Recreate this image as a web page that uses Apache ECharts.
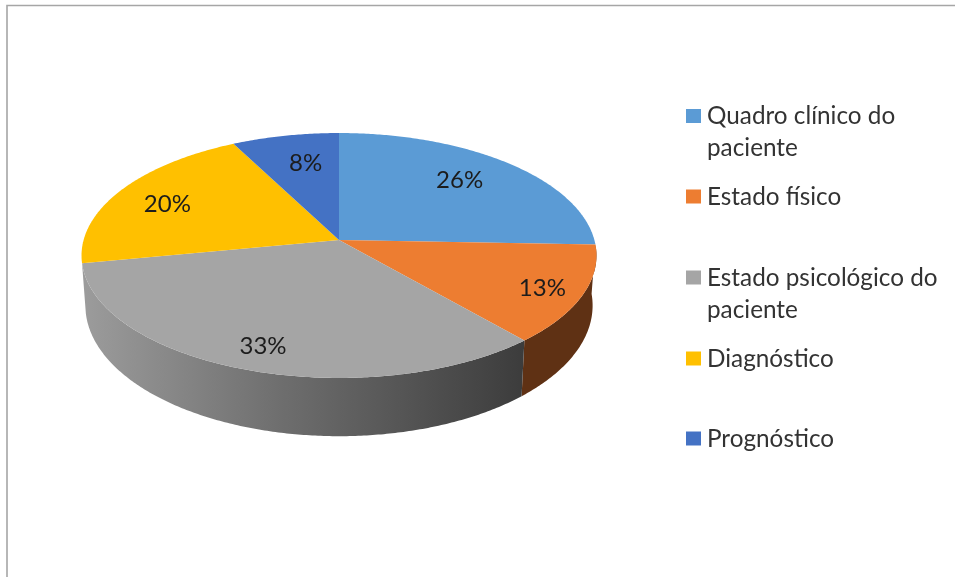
<!DOCTYPE html>
<html>
<head>
<meta charset="utf-8">
<style>html,body{margin:0;padding:0;background:#fff}#c{width:955px;height:577px}</style>
<script src="https://cdn.jsdelivr.net/npm/echarts@6/dist/echarts.min.js"></script>
</head>
<body>
<div id="c"></div>
<script>
const categories = ['Quadro clínico do\npaciente', 'Estado físico', 'Estado psicológico do\npaciente', 'Diagnóstico', 'Prognóstico'];
const values = [25.6, 13.0, 33.4, 20.4, 7.6];
const colors = ['#5b9bd5', '#ed7d31', '#a5a5a5', '#ffc000', '#4472c4'];

// layout of the tilted disc
const CX = 339, CY = 240, A = 255.4, B = 120.5, K = 0.1265;
const BOTTOM_DY = 49, BOTTOM_SX = 0.985, BOTTOM_SY = 1.067;
const labelRadius = [0.72, 0.85, 0.83, 0.77, 0.71];
const labelNudge = [[-4, -3], [-2, 2], [1, 1], [-2, 3], [6, 0]];
const legendCenters = [116, 196.5, 277.5, 358.5, 438.5];

const total = values.reduce((a, b) => a + b, 0);
const starts = [];
values.reduce((s, v, i) => { starts[i] = s; return s + v; }, 0);
const toAngle = v => v / total * 2 * Math.PI;

function project(theta, f, sx, sy, dy) {
  const u = Math.sin(theta) * f, v = Math.cos(theta) * f, w = 1 + K * v;
  return [CX + sx * A * u / w, CY + dy - sy * B * v / w];
}
function arc(t0, t1, sx, sy, dy) {
  const n = Math.max(2, Math.ceil(Math.abs(t1 - t0) / 0.01)), pts = [];
  for (let i = 0; i <= n; i++) pts.push(project(t0 + (t1 - t0) * i / n, 1, sx, sy, dy));
  return pts;
}
function range(i, v) { const t0 = toAngle(starts[i]); return [t0, t0 + toAngle(v)]; }

const wallFill = [
  null,
  '#5f3114',
  new echarts.graphic.LinearGradient(0, 0, 1, 0, [{offset: 0, color: '#9c9c9c'}, {offset: 0.45, color: '#6e6e6e'}, {offset: 1, color: '#3c3c3c'}]),
  null, null
];

const chart = echarts.init(document.getElementById('c'), null, {renderer: 'canvas'});
chart.setOption({
  animation: false,
  backgroundColor: '#ffffff',
  graphic: [{
    type: 'polyline', silent: true,
    shape: {points: [[7, 577], [7, 5.5], [955, 5.5]]},
    style: {stroke: '#a6a6a6', lineWidth: 1.6, fill: 'none'}
  }],
  series: [
    { // side walls
      type: 'custom', coordinateSystem: 'none', z: 1, silent: true,
      data: values.map(v => [v]),
      renderItem(params, api) {
        const i = params.dataIndex, [t0, t1] = range(i, api.value(0)), mid = (t0 + t1) / 2;
        if (mid < Math.PI / 2 || mid > 3 * Math.PI / 2) return {type: 'group', children: []};
        const top = arc(t0, t1, 1, 1, 0), bottom = arc(t1, t0, BOTTOM_SX, BOTTOM_SY, BOTTOM_DY);
        return {type: 'polygon', shape: {points: top.concat(bottom)}, style: {fill: wallFill[i]}};
      }
    },
    { // top faces with percentage labels
      type: 'custom', coordinateSystem: 'none', z: 2, silent: true,
      data: values.map(v => [v]),
      renderItem(params, api) {
        const i = params.dataIndex, v = api.value(0), [t0, t1] = range(i, v);
        const p = project((t0 + t1) / 2, labelRadius[i], 1, 1, 0);
        return {type: 'group', children: [
          {type: 'polygon', shape: {points: [[CX, CY]].concat(arc(t0, t1, 1, 1, 0))}, style: {fill: colors[i]}},
          {type: 'text', z2: 10, x: p[0] + labelNudge[i][0], y: p[1] + labelNudge[i][1], style: {
            text: Math.round(v / total * 100) + '%', fill: '#1c1c1c',
            font: '24px Lato', align: 'center', verticalAlign: 'middle'}}
        ]};
      }
    },
    { // legend
      type: 'custom', coordinateSystem: 'none', z: 3, silent: true,
      data: categories.map((c, i) => [i]),
      renderItem(params) {
        const i = params.dataIndex, y = legendCenters[i];
        return {type: 'group', children: [
          {type: 'rect', shape: {x: 686, y: y - 7, width: 15, height: 14}, style: {fill: colors[i]}},
          {type: 'text', x: 707, y: y - 15.5, style: {
            text: categories[i], fill: '#333333', font: '24.3px Lato',
            lineHeight: 32, align: 'left', verticalAlign: 'top'}}
        ]};
      }
    }
  ]
});
</script>
</body>
</html>
